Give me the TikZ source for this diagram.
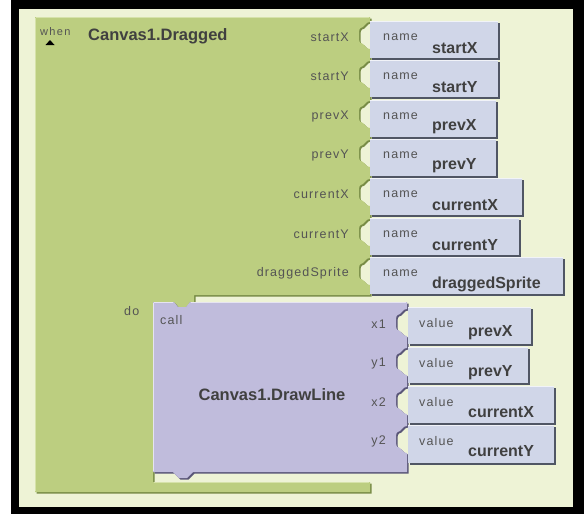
\documentclass[tikz,border=0pt]{standalone}
\usepackage{fontspec}
\setmainfont{Liberation Sans}
\newfontfamily\lblfont[LetterSpace=9]{Liberation Sans}
\newfontfamily\whenfont[LetterSpace=12]{Liberation Sans}
\newfontfamily\bldfont{Liberation Sans Bold}
\definecolor{bgc}{RGB}{238,243,214}
\definecolor{grn}{RGB}{188,206,128}
\definecolor{grnd}{RGB}{120,140,70}
\definecolor{grnl}{RGB}{214,226,170}
\definecolor{pur}{RGB}{192,188,220}
\definecolor{purd}{RGB}{90,86,120}
\definecolor{blu}{RGB}{208,214,232}
\definecolor{blud}{RGB}{80,86,100}
\definecolor{txt}{RGB}{64,64,64}
\definecolor{lbl}{RGB}{84,84,84}
\newcommand{\sock}[2]{-- (#1,#2) .. controls (#1-5,#2) and (#1-4,#2+4) .. (#1-7,#2+5) .. controls (#1-11,#2+6) and (#1-11,#2+8) .. (#1-11,#2+12) -- (#1-11,#2+15) .. controls (#1-11,#2+19) and (#1-11,#2+21) .. (#1-7,#2+22) .. controls (#1-4,#2+23) and (#1-5,#2+27) .. (#1,#2+27)}
\tikzset{
  titlefont/.style={font=\bldfont\fontsize{16.5}{18}\selectfont, text=txt, inner sep=0pt},
  valfont/.style={font=\bldfont\fontsize{16}{18}\selectfont, text=txt, inner sep=0pt, anchor=west},
  lblr/.style={font=\lblfont\fontsize{12.5}{14}\selectfont, text=lbl, inner sep=0pt, anchor=east},
  lbll/.style={font=\lblfont\fontsize{12.5}{14}\selectfont, text=lbl, inner sep=0pt, anchor=west},
}
\newcommand{\varblock}[7]{%
  \fill[blud] (#1+1.5,#2+1.5) rectangle (#3+1.5,#4+1.5);
  \fill[blu] (#1,#2) rectangle (#3,#4);
  \draw[white!70!blu, line width=0.8pt] (#1,#2+0.5) -- (#3-0.5,#2+0.5);
  \node[lbll] (#5a) at (#1+13,#2+16) {#6};
  \node[valfont] (#5b) at (#1+62,#2+27) {#7};
}
\newcommand{\valblock}[7]{%
  \fill[blud] (#1+1.5,#2+1.5) rectangle (#3+1.5,#4+1.5);
  \fill[blu] (#1,#2) rectangle (#3,#4);
  \draw[white!70!blu, line width=0.8pt] (#1,#2+0.5) -- (#3-0.5,#2+0.5);
  \node[lbll] (#5a) at (#1+11,#2+16) {#6};
  \node[valfont] (#5b) at (#1+60,#2+26) {#7};
}
\begin{document}
\begin{tikzpicture}[x=1pt,y=-1pt]
\useasboundingbox (0,0) rectangle (584,514);
\fill[white] (0,0) rectangle (584,514);
\fill[black] (11,0) rectangle (584,514);
\fill[bgc] (19,9) rectangle (573,507);
% green event block
\def\greenpath{(35,17) -- (370,17) \sock{370}{22} -- (370,61) \sock{370}{61} -- (370,100) \sock{370}{101} -- (370,140) \sock{370}{140} -- (370,179) \sock{370}{179} -- (370,219) \sock{370}{219} -- (370,258) \sock{370}{258} -- (370,295) -- (194,295) -- (194,302) -- (190,302) -- (186,307) -- (178,307) -- (174,302) -- (153,302) -- (153,482) -- (370,482) -- (370,492) -- (35,492) -- cycle}
\fill[grnd, shift={(1.5,1.5)}] \greenpath;
\fill[grn] \greenpath;
\draw[grnl, line width=1pt] (36,17.5) -- (369,17.5);
\draw[grnl, line width=1pt] (35.5,18) -- (35.5,491);
\draw[grnl, line width=1pt] (154,482.5) -- (369,482.5);
% purple call block
\def\purpath{(153,302) -- (174,302) -- (178,307) -- (186,307) -- (190,302) -- (407,302) \sock{407}{309} -- (407,348) \sock{407}{348} -- (407,387) \sock{407}{387} -- (407,426) \sock{407}{426} -- (407,472) -- (193,472) -- (187,478) -- (179,478) -- (173,472) -- (153,472) -- cycle}
\fill[purd, shift={(1.5,1.5)}] \purpath;
\fill[pur] \purpath;
\draw[white!60!pur, line width=0.8pt] (154,302.5) -- (173,302.5);
\draw[white!60!pur, line width=0.8pt] (191,302.5) -- (406,302.5);
\draw[white!60!pur, line width=0.8pt] (153.5,303) -- (153.5,471);
% texts of green block
\node[font=\whenfont\fontsize{11}{12}\selectfont, text=lbl, inner sep=0pt, anchor=west] (when) at (40,32) {when};
\fill[black] (45.5,45) -- (50,40) -- (54.5,45) -- cycle;
\node[titlefont, anchor=west] (title) at (88,36.5) {Canvas1.Dragged};
\node[lblr] (l1) at (349,37) {startX};
\node[lblr] (l2) at (349,76) {startY};
\node[lblr] (l3) at (349,116) {prevX};
\node[lblr] (l4) at (349,155) {prevY};
\node[lblr] (l5) at (349,194) {currentX};
\node[lblr] (l6) at (349,234) {currentY};
\node[lblr] (l7) at (349,273) {draggedSprite};
\node[lbll] (do) at (124,311) {do};
% name blocks
\varblock{370}{21}{498}{58}{n1}{name}{startX}
\varblock{370}{60}{498}{97}{n2}{name}{startY}
\varblock{370}{100}{496}{137}{n3}{name}{prevX}
\varblock{370}{139}{496}{176}{n4}{name}{prevY}
\varblock{370}{178}{522}{215}{n5}{name}{currentX}
\varblock{370}{218}{519}{255}{n6}{name}{currentY}
\varblock{370}{257}{563}{294}{n7}{name}{draggedSprite}
% call block texts
\node[lbll] (call) at (160,320) {call};
\node[titlefont] (fn) at (272,395) {Canvas1.DrawLine};
\node[lblr] (x1) at (386,324) {x1};
\node[lblr] (y1) at (386,363) {y1};
\node[lblr] (x2) at (386,402) {x2};
\node[lblr] (y2) at (386,441) {y2};
% value blocks
\valblock{408}{307}{531}{344}{v1}{value}{prevX}
\valblock{408}{347}{528}{383}{v2}{value}{prevY}
\valblock{408}{386}{554}{423}{v3}{value}{currentX}
\valblock{408}{425}{554}{463}{v4}{value}{currentY}
\end{tikzpicture}
\end{document}
